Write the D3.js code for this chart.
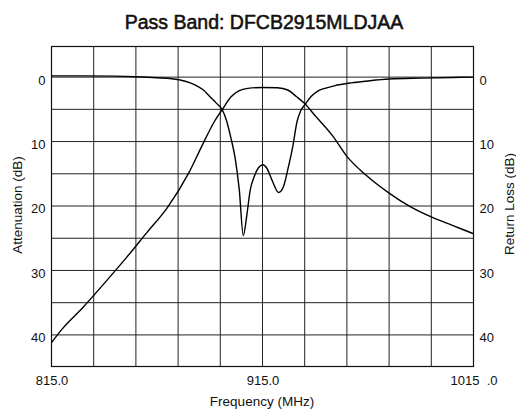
<!DOCTYPE html>
<html>
<head>
<meta charset="utf-8">
<script src="https://cdn.jsdelivr.net/npm/d3@7"></script>
<style>
  html, body { margin: 0; padding: 0; background: #fff; }
  svg { display: block; font-family: "Liberation Sans", Arial, sans-serif; }
</style>
</head>
<body>
<svg id="chart" width="516" height="411"></svg>
<script>
// frequency (MHz) -> attenuation (dB)
const attFreq = [815, 820, 830, 840, 850, 860, 870, 880, 887, 892, 896, 900, 904, 908, 915, 922, 927, 931, 935, 940, 948, 955, 964, 975, 985, 995, 1005, 1015];
const attDb   = [41.2, 39.1, 35.7, 32.0, 28.2, 24.2, 20.2, 14.9, 10.2, 7.0, 5.0, 3.1, 2.1, 1.75, 1.6, 1.65, 2.0, 3.0, 4.1, 6.0, 9.0, 12.3, 15.2, 18.0, 20.1, 21.7, 23.0, 24.3];

// frequency (MHz) -> return loss (dB)
const rlFreq = [815, 830, 845, 855, 865, 872, 878, 883, 887, 890, 893, 896, 898, 900, 902, 904, 905.9, 907.5, 909.2, 911, 913, 915.2, 917, 919.4, 922.6, 924.9, 927.3, 929.5, 931.3, 933, 935.3, 938, 941, 945, 949, 957, 965, 975, 990, 1005, 1015];
const rlDb   = [-0.2, -0.2, -0.15, -0.05, 0.1, 0.25, 0.6, 1.2, 2.0, 3.0, 4.0, 5.1, 6.8, 9.4, 12.5, 17.5, 24.6, 21.6, 17.5, 15.5, 14.1, 13.6, 14.1, 15.9, 17.9, 17.0, 13.9, 10.5, 7.0, 5.3, 4.2, 3.0, 2.2, 1.7, 1.35, 0.9, 0.6, 0.3, 0.15, 0.05, 0.0];

const xTickValues = [815, 915, 1015];
const xTickLabels = ["815.0", "915.0", "1015\u00a0\u00a0.0"];
const yTickValues = [0, 10, 20, 30, 40];
const xGridValues = [835, 855, 875, 895, 915, 935, 955, 975, 995];
const yGridValues = [0, 5, 10, 15, 20, 25, 30, 35, 40];

const svg = d3.select("#chart");
const margin = { top: 46.5, right: 42.5, bottom: 44.5, left: 51.5 };
const width = 516, height = 411;

const x = d3.scaleLinear().domain([815, 1015]).range([margin.left, width - margin.right]);
const y = d3.scaleLinear().domain([-4.75, 44.9]).range([margin.top, height - margin.bottom]);

// title
svg.append("text")
  .attr("x", 264).attr("y", 29)
  .attr("text-anchor", "middle")
  .style("font-size", "19.5px").style("fill", "#111")
  .style("stroke", "#111").style("stroke-width", 0.55)
  .text("Pass Band: DFCB2915MLDJAA");

// grid
const grid = svg.append("g").attr("stroke", "#222").attr("stroke-width", 1);
grid.selectAll(".vg").data(xGridValues).enter().append("line")
  .attr("x1", d => x(d)).attr("x2", d => x(d))
  .attr("y1", y.range()[0]).attr("y2", y.range()[1]);
grid.selectAll(".hg").data(yGridValues).enter().append("line")
  .attr("x1", x.range()[0]).attr("x2", x.range()[1])
  .attr("y1", d => y(d)).attr("y2", d => y(d));
svg.append("rect")
  .attr("x", x.range()[0]).attr("y", y.range()[0])
  .attr("width", x.range()[1] - x.range()[0]).attr("height", y.range()[1] - y.range()[0])
  .attr("fill", "none").attr("stroke", "#111").attr("stroke-width", 1.2);

// curves
const line = d3.line().x(d => x(d[0])).y(d => y(d[1])).curve(d3.curveMonotoneX);
svg.append("path")
  .datum(attFreq.map((f, i) => [f, attDb[i]]))
  .attr("d", line).attr("fill", "none").attr("stroke", "#000").attr("stroke-width", 1.4);
svg.append("path")
  .datum(rlFreq.map((f, i) => [f, rlDb[i]]))
  .attr("d", line).attr("fill", "none").attr("stroke", "#000").attr("stroke-width", 1.4);

// axes (labels only)
const xAxis = d3.axisBottom(x).tickValues(xTickValues).tickSize(0).tickPadding(0)
  .tickFormat((d, i) => xTickLabels[i]);
const gx = svg.append("g").attr("transform", `translate(0,${height - margin.bottom})`).call(xAxis);
gx.select(".domain").remove();
gx.selectAll("text").attr("y", 18).attr("dy", 0).style("font-size", "13px").style("fill", "#111")
  .style("font-family", "Liberation Sans, Arial, sans-serif").style("white-space", "pre");

const yAxisL = d3.axisLeft(y).tickValues(yTickValues).tickSize(0).tickPadding(6);
const gyl = svg.append("g").attr("transform", `translate(${margin.left},0)`).call(yAxisL);
gyl.select(".domain").remove();
gyl.selectAll("text").attr("dy", "0.53em").style("font-size", "13px").style("fill", "#111")
  .style("font-family", "Liberation Sans, Arial, sans-serif");

const yAxisR = d3.axisRight(y).tickValues(yTickValues).tickSize(0).tickPadding(6);
const gyr = svg.append("g").attr("transform", `translate(${width - margin.right},0)`).call(yAxisR);
gyr.select(".domain").remove();
gyr.selectAll("text").attr("dy", "0.53em").style("font-size", "13px").style("fill", "#111")
  .style("font-family", "Liberation Sans, Arial, sans-serif");

// axis titles
svg.append("text")
  .attr("x", 262).attr("y", 406)
  .attr("text-anchor", "middle").style("font-size", "13.5px").style("fill", "#111")
  .text("Frequency (MHz)");
svg.append("text")
  .attr("transform", "translate(22,205) rotate(-90)")
  .attr("text-anchor", "middle").style("font-size", "13.5px").style("fill", "#111")
  .text("Attenuation (dB)");
svg.append("text")
  .attr("transform", "translate(513.5,204) rotate(-90)")
  .attr("text-anchor", "middle").style("font-size", "13.5px").style("fill", "#111")
  .text("Return Loss (dB)");
</script>
</body>
</html>
